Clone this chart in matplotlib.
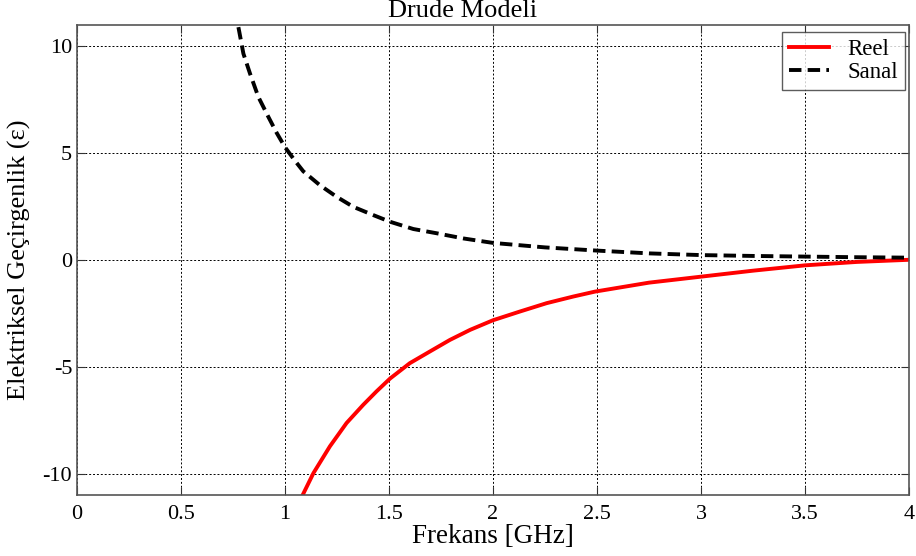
import matplotlib
matplotlib.use("Agg")
import matplotlib.pyplot as plt

# Imaginary part (Sanal) readings
f_sanal = [0.776, 0.80, 0.832, 0.872, 0.92, 0.96, 1.0, 1.05, 1.088, 1.168, 1.248,
           1.328, 1.425, 1.505, 1.617, 1.73, 1.857, 2.0, 2.25, 2.5, 2.75, 3.0,
           3.25, 3.5, 3.75, 4.0]
eps_sanal = [10.9, 9.66, 8.72, 7.63, 6.70, 5.95, 5.28, 4.62, 4.15, 3.50, 2.96,
             2.49, 2.10, 1.79, 1.45, 1.25, 1.01, 0.80, 0.59, 0.44, 0.31, 0.23,
             0.19, 0.16, 0.13, 0.11]

# Real part (Reel) readings
f_reel = [1.085, 1.137, 1.216, 1.296, 1.376, 1.44, 1.505, 1.60, 1.697, 1.793,
          1.89, 2.0, 2.13, 2.258, 2.386, 2.49, 2.75, 3.0, 3.25, 3.5, 3.75, 4.0]
eps_reel = [-11.0, -9.97, -8.72, -7.63, -6.78, -6.15, -5.55, -4.83, -4.28, -3.74,
            -3.27, -2.82, -2.41, -2.02, -1.71, -1.48, -1.06, -0.78, -0.50, -0.25,
            -0.09, 0.01]

xticks = [0, 0.5, 1, 1.5, 2, 2.5, 3, 3.5, 4]
xticklabels = ["0", "0.5", "1", "1.5", "2", "2.5", "3", "3.5", "4"]
yticks = [-10, -5, 0, 5, 10]
yticklabels = ["-10", "-5", "0", "5", "10"]

plt.rcParams['font.family'] = ['Liberation Serif', 'DejaVu Serif']

fig = plt.figure(figsize=(9.16, 5.56), dpi=100)
ax = fig.add_axes([77/916, 1 - 495/556, (909-77)/916, (495-25)/556])

ax.plot(f_reel, eps_reel, color='#ff0000', lw=2.8, label='Reel')
ax.plot(f_sanal, eps_sanal, color='black', lw=2.8, ls=(0, (3.2, 1.6)), label='Sanal')

ax.set_xlim(0, 4)
ax.set_ylim(-11, 11)
ax.set_xticks(xticks)
ax.set_xticklabels(xticklabels)
ax.set_yticks(yticks)
ax.set_yticklabels(yticklabels)
ax.tick_params(direction='in', length=6, width=0.8, labelsize=16, top=True, right=True,
               colors='#333333', labelcolor='black')
ax.tick_params(axis='x', pad=7)
ax.grid(True, color='black', ls=(0, (2, 2)), lw=0.7)
for s in ax.spines.values():
    s.set_color('#555555')
    s.set_linewidth(1.2)

ax.set_xlabel('Frekans [GHz]', fontsize=19.5, labelpad=0)
ax.set_ylabel('Elektriksel Geçirgenlik (ε)', fontsize=19, labelpad=8)
ax.set_title('Drude Modeli', fontsize=19, x=(463-77)/832, pad=5.5)

leg = ax.legend(loc='upper right', fontsize=16.5, frameon=True, fancybox=False,
                edgecolor='#333333', borderpad=0.3, handlelength=1.75,
                handletextpad=0.8, labelspacing=0.1, borderaxespad=0,
                bbox_to_anchor=((905-77)/832, (495-32)/470))
leg.get_frame().set_linewidth(1.0)

fig.savefig('out.png', dpi=100, facecolor='white')
